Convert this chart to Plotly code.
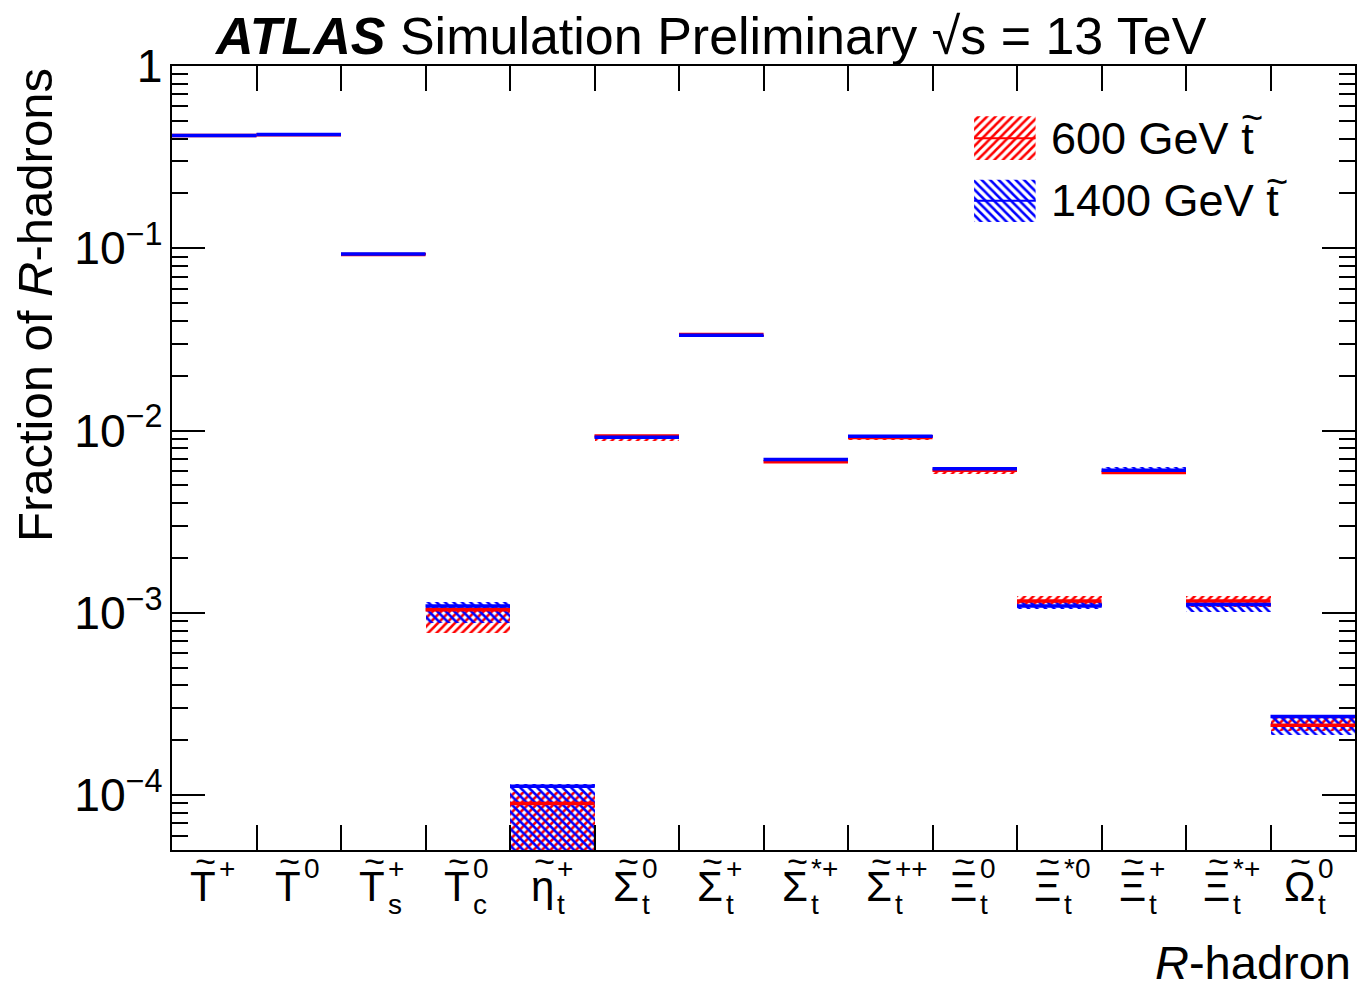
import plotly.graph_objects as go

# ---------------- data ----------------
hadron_main = ["T", "T", "T", "T", "\u03b7", "\u03a3", "\u03a3",
               "\u03a3", "\u03a3", "\u039e", "\u039e", "\u039e", "\u039e", "\u03a9"]
hadron_sup = ["+", "0", "+", "0", "+", "0", "+", "*+", "++", "0", "*0", "+", "*+", "0"]
hadron_sub = ["", "", "s", "c", "t", "t", "t", "t", "t", "t", "t", "t", "t", "t"]

frac_600 = [0.415, 0.420, 0.0925, 1.04e-3, 9.0e-5, 9.35e-3, 0.0336, 6.75e-3, 9.15e-3,
            6.05e-3, 1.16e-3, 5.88e-3, 1.16e-3, 2.42e-4]
err_dn_600 = [0.003, 0.003, 0.0012, 2.6e-4, 8.5e-5, 5.5e-4, 5e-4, 1.5e-4, 2.5e-4,
              2.5e-4, 6e-5, 1e-4, 9e-5, 1.8e-5]
err_up_600 = [0.003, 0.003, 0.0012, 6e-5, 1.4e-5, 1e-4, 3e-4, 1.5e-4, 1.5e-4,
              1e-4, 7e-5, 1e-4, 8e-5, 2.4e-5]

frac_1400 = [0.416, 0.421, 0.093, 1.09e-3, 1.12e-4, 9.2e-3, 0.0333, 6.93e-3, 9.3e-3,
             6.18e-3, 1.09e-3, 6.05e-3, 1.11e-3, 2.70e-4]
err_dn_1400 = [0.002, 0.002, 0.001, 2.1e-4, 1.07e-4, 2e-4, 4e-4, 1.5e-4, 1.5e-4,
               1.5e-4, 4e-5, 2.5e-4, 1e-4, 5.5e-5]
err_up_1400 = [0.002, 0.002, 0.001, 5e-5, 3e-6, 1.5e-4, 3e-4, 1e-4, 1e-4,
               8e-5, 6e-5, 2.5e-4, 2e-5, 4e-6]

series = [
    ("600 GeV t", frac_600, err_dn_600, err_up_600, "#ff0000", "/"),
    ("1400 GeV t", frac_1400, err_dn_1400, err_up_1400, "#0000ff", "\\"),
]

FONT = "Liberation Sans, Arial, Helvetica, sans-serif"
# approximate glyph widths (px) of the main symbols at the label font size, used to centre the tilde
GLYPH_W = {"T": 26, "\u03b7": 23, "\u03a3": 25, "\u039e": 28, "\u03a9": 32}

n = len(hadron_main)
centers = list(range(n))

fig = go.Figure()

# uncertainty boxes (hatched)
for name, val, dn, up, col, shp in series:
    fig.add_trace(go.Bar(
        x=centers,
        base=[v - d for v, d in zip(val, dn)],
        y=[d + u for d, u in zip(dn, up)],
        width=1.0,
        marker=dict(color=col, line=dict(width=0),
                    pattern=dict(shape=shp, fgcolor=col, bgcolor="rgba(0,0,0,0)",
                                 size=6, solidity=0.42, fgopacity=1, fillmode="replace")),
        showlegend=False, hoverinfo="skip",
    ))

# central values as horizontal segments per bin
for name, val, dn, up, col, shp in series:
    xs, ys = [], []
    for i, v in enumerate(val):
        xs += [i - 0.5, i + 0.5, None]
        ys += [v, v, None]
    fig.add_trace(go.Scatter(x=xs, y=ys, mode="lines", line=dict(color=col, width=3.5),
                             showlegend=False, hoverinfo="skip"))

# legend swatches drawn on an overlay axis in plot-fraction units
leg_boxes = [(0.678, 0.730, 0.880, 0.936), (0.678, 0.730, 0.801, 0.855)]
leg_tilde = [(0.913, 0.934), (0.934, 0.852)]
for (name, val, dn, up, col, shp), (x0, x1, y0, y1), (tx, ty) in zip(series, leg_boxes, leg_tilde):
    fig.add_trace(go.Scatter(
        x=[x0, x1, x1, x0, x0], y=[y0, y0, y1, y1, y0], mode="lines",
        line=dict(width=0), fill="toself", fillcolor="rgba(0,0,0,0)",
        fillpattern=dict(shape=shp, fgcolor=col, bgcolor="rgba(0,0,0,0)", size=6,
                         solidity=0.42, fgopacity=1),
        xaxis="x2", yaxis="y2", showlegend=False, hoverinfo="skip"))
    ym = (y0 + y1) / 2
    fig.add_trace(go.Scatter(x=[x0, x1], y=[ym, ym], mode="lines", line=dict(color=col, width=2),
                             xaxis="x2", yaxis="y2", showlegend=False, hoverinfo="skip"))
    fig.add_annotation(xref="paper", yref="paper", x=0.741, y=ym, xanchor="left", yanchor="middle",
                       text=name, showarrow=False, font=dict(family=FONT, size=45, color="black"))
    fig.add_annotation(xref="paper", yref="paper", x=tx, y=ty, xanchor="center", yanchor="middle",
                       text="~", showarrow=False, font=dict(family=FONT, size=38, color="black"))

# x-axis category labels (symbol + tilde + stacked super/subscripts)
for i in range(n):
    fig.add_annotation(xref="x", yref="paper", x=i, y=0, xanchor="right", yanchor="middle",
                       xshift=4, yshift=-36, text=hadron_main[i], showarrow=False,
                       font=dict(family=FONT, size=42, color="black"))
    fig.add_annotation(xref="x", yref="paper", x=i, y=0, xanchor="center", yanchor="middle",
                       xshift=4 - GLYPH_W[hadron_main[i]] / 2, yshift=-11, text="~", showarrow=False,
                       font=dict(family=FONT, size=36, color="black"))
    fig.add_annotation(xref="x", yref="paper", x=i, y=0, xanchor="left", yanchor="middle",
                       xshift=3, yshift=-18, text=hadron_sup[i], showarrow=False,
                       font=dict(family=FONT, size=28, color="black"))
    if hadron_sub[i]:
        fig.add_annotation(xref="x", yref="paper", x=i, y=0, xanchor="left", yanchor="middle",
                           xshift=3, yshift=-54, text=hadron_sub[i], showarrow=False,
                           font=dict(family=FONT, size=28, color="black"))

# title
fig.add_annotation(xref="paper", yref="paper", x=0, y=1, xshift=40, yshift=30,
                   xanchor="left", yanchor="middle", showarrow=False,
                   text="<b><i>ATLAS</i></b> Simulation Preliminary \u221as = 13 TeV",
                   font=dict(family=FONT, size=52, color="black"))
# y-axis title
fig.add_annotation(xref="paper", yref="paper", x=0, y=1, xshift=-137, xanchor="center",
                   yanchor="top", textangle=-90, showarrow=False,
                   text="Fraction of <i>R</i>-hadrons", font=dict(family=FONT, size=49, color="black"))
# x-axis title
fig.add_annotation(xref="paper", yref="paper", x=1, y=0, xshift=-2, yshift=-112,
                   xanchor="right", yanchor="middle", showarrow=False,
                   text="<i>R</i>-hadron", font=dict(family=FONT, size=47, color="black"))

fig.update_layout(
    width=1366, height=982,
    margin=dict(l=172, r=9, t=66, b=132),
    paper_bgcolor="white", plot_bgcolor="white",
    barmode="overlay", bargap=0,
    showlegend=False,
    font=dict(family=FONT, color="black"),
    xaxis=dict(range=[-0.5, n - 0.5], tickvals=[i + 0.5 for i in range(n - 1)],
               showticklabels=False, ticks="inside", ticklen=25, tickwidth=2, tickcolor="black",
               showline=True, linewidth=2, linecolor="black", mirror="ticks",
               showgrid=False, zeroline=False),
    yaxis=dict(type="log", range=[-4.301, 0], dtick=1, exponentformat="power",
               ticks="inside", ticklen=33, tickwidth=2, tickcolor="black",
               minor=dict(ticks="inside", ticklen=16, tickwidth=2, tickcolor="black", dtick="D1",
                          showgrid=False),
               showline=True, linewidth=2, linecolor="black", mirror="ticks",
               showgrid=False, zeroline=False,
               tickfont=dict(family=FONT, size=37, color="black")),
    xaxis2=dict(domain=[0, 1], range=[0, 1], anchor="y2", overlaying="x", visible=False),
    yaxis2=dict(domain=[0, 1], range=[0, 1], anchor="x2", overlaying="y", visible=False),
)

fig.write_html("out.html")
